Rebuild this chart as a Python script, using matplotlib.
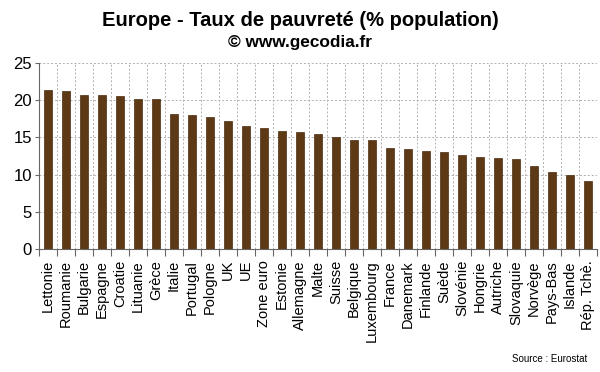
import numpy as np
import matplotlib.pyplot as plt

# Données
pays = ["Lettonie", "Roumanie", "Bulgarie", "Espagne", "Croatie", "Lituanie", "Grèce",
        "Italie", "Portugal", "Pologne", "UK", "UE", "Zone euro", "Estonie", "Allemagne",
        "Malte", "Suisse", "Belgique", "Luxembourg", "France", "Danemark", "Finlande",
        "Suède", "Slovénie", "Hongrie", "Autriche", "Slovaquie", "Norvège", "Pays-Bas",
        "Islande", "Rép. Tchè."]
taux = [21.4, 21.2, 20.7, 20.7, 20.6, 20.2, 20.1,
        18.2, 18.0, 17.7, 17.2, 16.5, 16.2, 15.9, 15.7,
        15.5, 15.0, 14.7, 14.6, 13.6, 13.4, 13.2,
        13.0, 12.7, 12.4, 12.2, 12.1, 11.2, 10.4,
        9.9, 9.1]
yticks = [0, 5, 10, 15, 20, 25]

plt.rcParams['font.family'] = ['Liberation Sans', 'DejaVu Sans']

fig = plt.figure(figsize=(6, 3.72), dpi=100)
ax = fig.add_axes([39 / 600, 1 - 249 / 372, 558 / 600, 186 / 372])

x = np.arange(len(pays))
ax.bar(x, taux, width=0.42, color="#5e3915", edgecolor="#4a2c10", linewidth=0.5, zorder=3)

ax.set_xlim(-0.5, len(pays) - 0.5)
ax.set_ylim(0, 25)
ax.set_yticks(yticks)
ax.tick_params(axis='y', labelsize=12, length=3, color="#666666", pad=2)

# ticks x entre les catégories, labels au centre
ax.set_xticks(np.arange(-0.5, len(pays), 1.0))
ax.set_xticklabels([])
ax.set_xticks(x, minor=True)
ax.set_xticklabels(pays, minor=True, rotation=90, fontsize=10.5)
ax.tick_params(axis='x', which='major', length=5, color="#666666")
ax.tick_params(axis='x', which='minor', length=0, pad=8)

ax.grid(True, which='major', linestyle=(0, (2, 2)), color="#b0b0b0", linewidth=0.7, zorder=0)
for s in ['top', 'right']:
    ax.spines[s].set_visible(False)
for s in ['left', 'bottom']:
    ax.spines[s].set_color("#666666")
    ax.spines[s].set_linewidth(0.8)

fig.text(0.5, 1 - 20 / 372, "Europe - Taux de pauvreté (% population)", ha='center', va='center',
         fontsize=14.5, fontweight='bold')
fig.text(0.5, 1 - 42 / 372, "© www.gecodia.fr", ha='center', va='center',
         fontsize=12.4, fontweight='bold')
fig.text(587 / 600, 1 - 359 / 372, "Source : Eurostat", ha='right', va='center', fontsize=7)

fig.savefig("out.png", dpi=100)
